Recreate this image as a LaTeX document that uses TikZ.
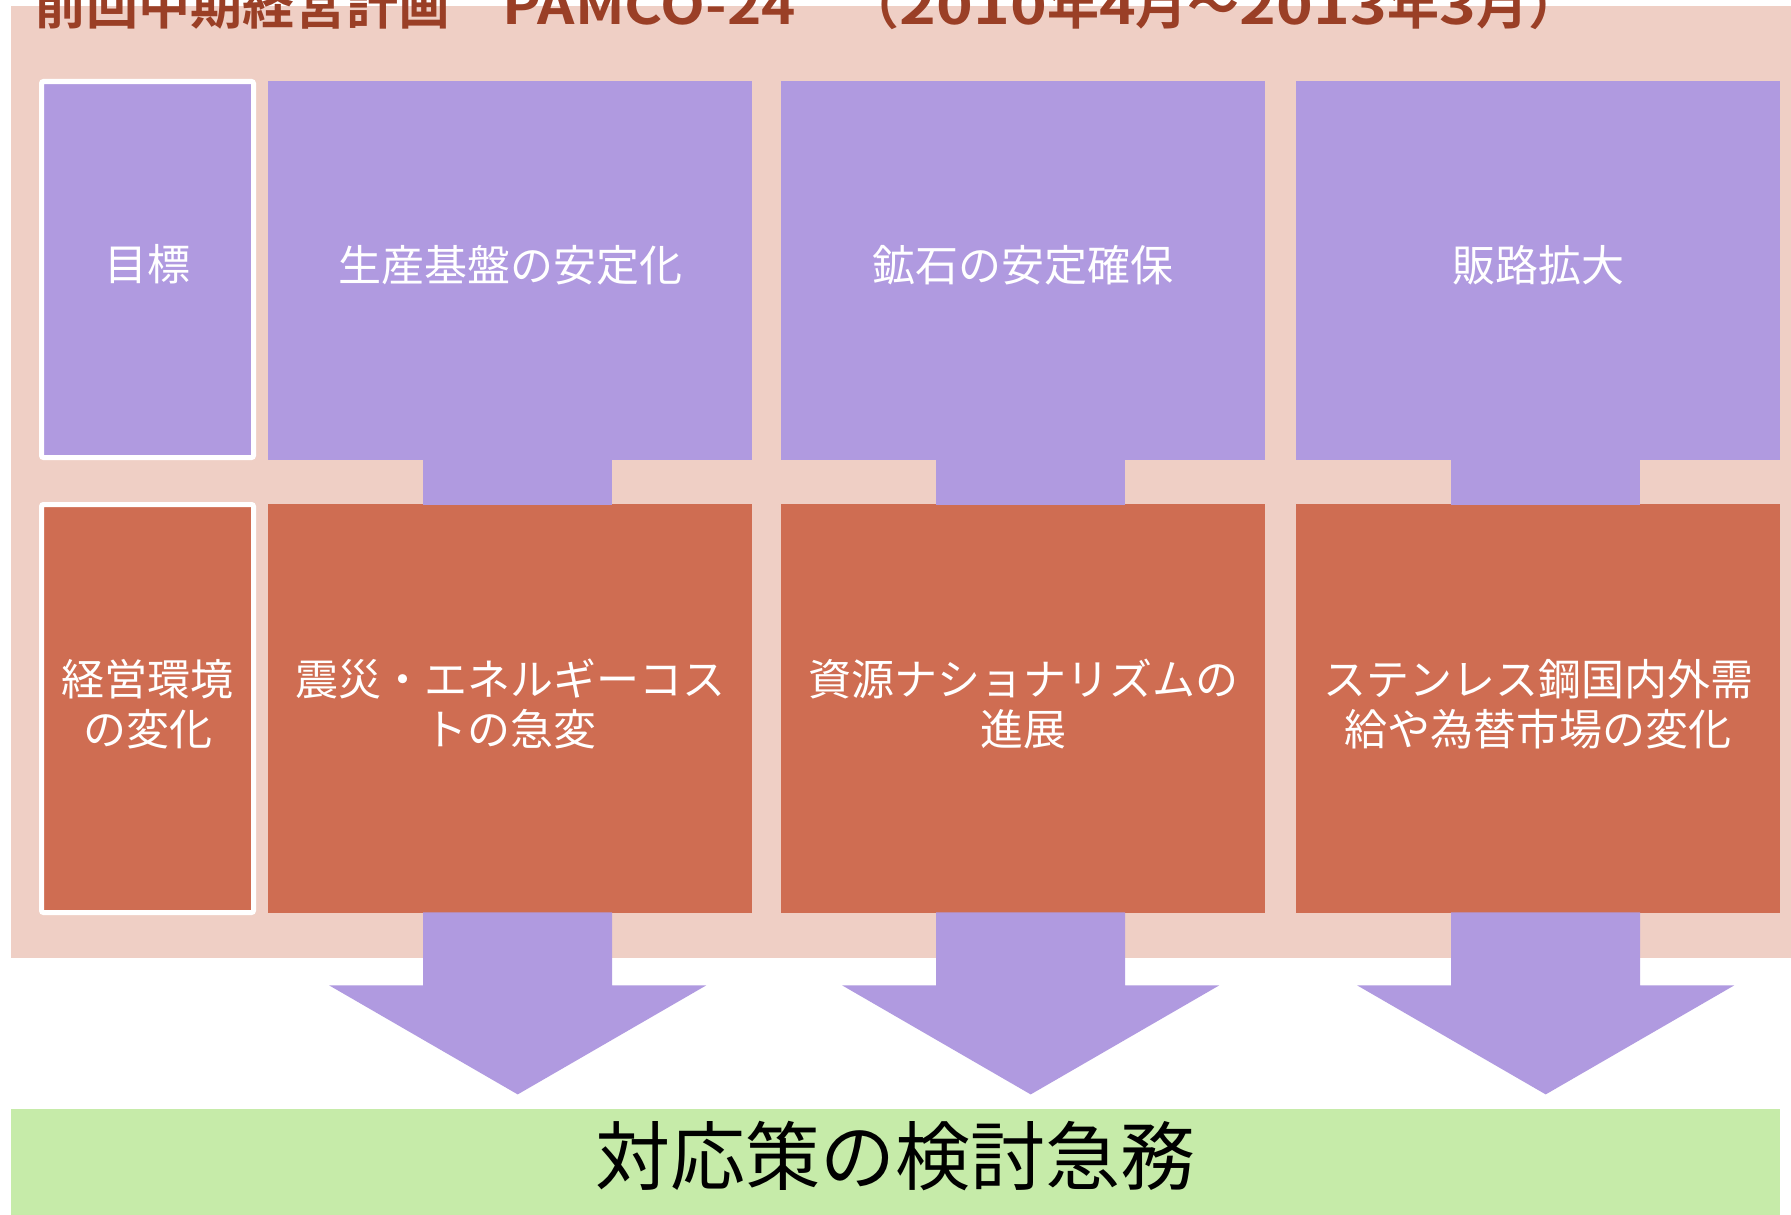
\documentclass[tikz,border=0pt]{standalone}
\usepackage{fontspec}
\newfontfamily\jp[BoldFont={Noto Sans CJK JP Bold}]{Noto Sans CJK JP}
\usetikzlibrary{calc}
\definecolor{purp}{RGB}{176,154,224}
\definecolor{orng}{RGB}{207,109,82}
\definecolor{pinkbg}{RGB}{239,207,197}
\definecolor{greenbar}{RGB}{198,235,169}
\definecolor{titlebrown}{RGB}{154,63,38}
\newcommand{\latwide}[2][1.2]{\scalebox{#1}[1]{#2}}
\newcommand{\lowerfix}[1]{\rule[-#1]{0pt}{0pt}}
\begin{document}
\begin{tikzpicture}[x=1pt,y=-1pt,
  boxtext/.style={text=white,font=\jp\fontsize{43}{50}\selectfont,align=center},
  goalbox/.style={boxtext,fill=purp,anchor=north west,inner sep=0pt,minimum width=484pt,minimum height=379pt,text width=470pt},
  envbox/.style={boxtext,fill=orng,anchor=north west,inner sep=0pt,minimum width=484pt,minimum height=409pt,text width=470pt},
  labelbox/.style={boxtext,draw=white,line width=5pt,rounded corners=2pt,inner sep=0pt,minimum width=212pt,text width=200pt},
  arrowfill/.style={fill=purp}
]
\useasboundingbox (0,0) rectangle (1791,1215);
\fill[white] (0,0) rectangle (1791,1215);
% background panel
\fill[pinkbg] (11,6) rectangle (1791,958);
\node[anchor=base west,inner sep=0pt,text=titlebrown,font=\jp\bfseries\fontsize{52}{60}\selectfont] (title) at (34,25) {前回中期経営計画　\latwide[1.12]{PAMCO-24}　（\latwide{2010}年\latwide{4}月～\latwide{2013}年\latwide{3}月）};
% label boxes
\node[labelbox,fill=purp,minimum height=376pt] (lg) at (147.5,269.5) {目標\lowerfix{15pt}};
\node[labelbox,fill=orng,minimum height=408pt] (le) at (147.5,708.5) {経営環境\\の変化\lowerfix{13pt}};
% goal boxes
\node[goalbox] (g1) at (268,81) {生産基盤の安定化\lowerfix{15pt}};
\node[goalbox] (g2) at (781,81) {鉱石の安定確保\lowerfix{15pt}};
\node[goalbox] (g3) at (1296,81) {販路拡大\lowerfix{15pt}};
% environment boxes
\node[envbox] (e1) at (268,504) {震災・エネルギーコス\\トの急変\lowerfix{13pt}};
\node[envbox] (e2) at (781,504) {資源ナショナリズムの\\進展\lowerfix{13pt}};
\node[envbox] (e3) at (1296,504) {ステンレス鋼国内外需\\給や為替市場の変化\lowerfix{13pt}};
% bottom bar
\node[fill=greenbar,anchor=north west,inner sep=0pt,minimum width=1769pt,minimum height=106pt,font=\jp\fontsize{75}{80}\selectfont,text=black] (res) at (11,1109) {対応策の検討急務\lowerfix{19pt}};
% arrows
\foreach \i in {1,2,3}{
  \fill[arrowfill] ($(g\i.south)+(-87,-1)$) rectangle ($(e\i.north)+(102,1)$);
  \fill[arrowfill] ($(e\i.south)+(-87,-1)$) -- ($(e\i.south)+(102,-1)$) -- ($(e\i.south)+(102,72)$) -- ($(e\i.south)+(196,72)$) -- ($(e\i.south)+(7.5,181)$) -- ($(e\i.south)+(-181,72)$) -- ($(e\i.south)+(-87,72)$) -- cycle;
}
\end{tikzpicture}
\end{document}
